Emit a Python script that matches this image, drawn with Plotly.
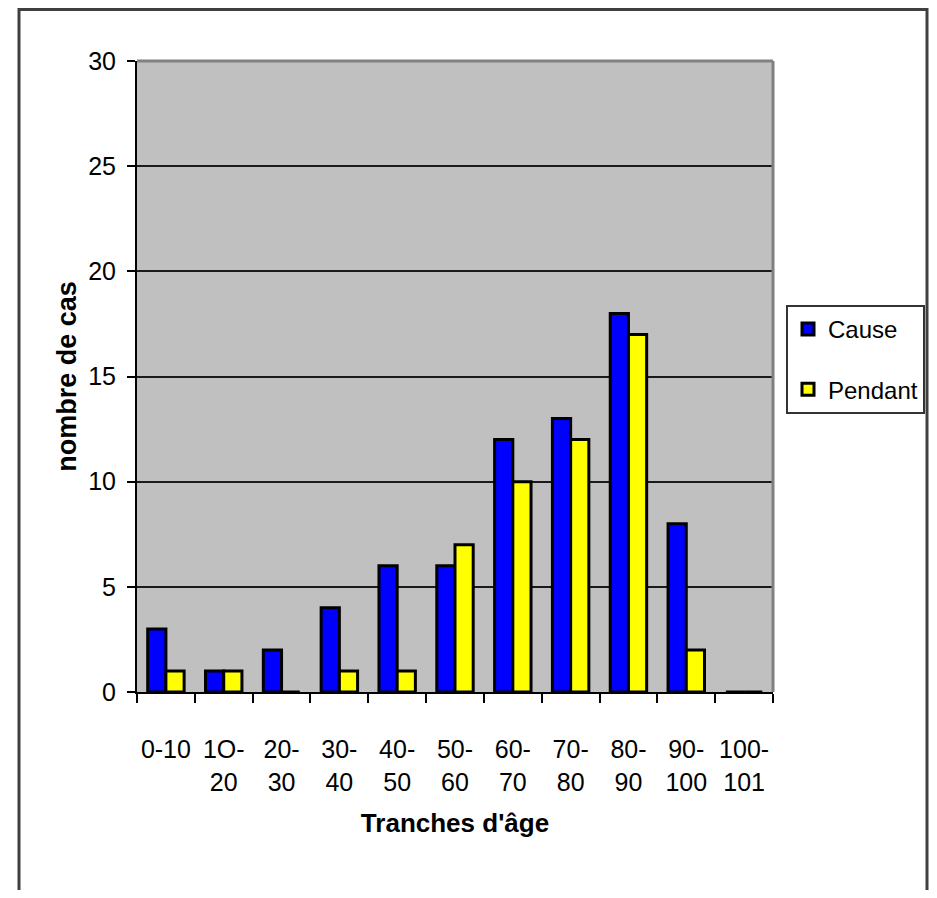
import plotly.graph_objects as go

categories = ["0-10", "1O-<br>20", "20-<br>30", "30-<br>40", "40-<br>50", "50-<br>60",
              "60-<br>70", "70-<br>80", "80-<br>90", "90-<br>100", "100-<br>101"]
cause = [3, 1, 2, 4, 6, 6, 12, 13, 18, 8, 0]
pendant = [1, 1, 0, 1, 1, 7, 10, 12, 17, 2, 0]

FONT = "Liberation Sans, Arial, sans-serif"

# page has an 8px body margin; figure coords = page coords - 8
OFF = 8
W, H = 937 - 2 * OFF, 898 - 2 * OFF
L, R, T, B = 137 - OFF, 773 - OFF, 61 - OFF, 692 - OFF
pw, ph = R - L, B - T


def px(x):
    return (x - OFF - L) / pw


def py(y):
    return (B - (y - OFF)) / ph


fig = go.Figure()
fig.add_trace(go.Bar(x=categories, y=cause, name="Cause", legendgroup="a",
                     marker=dict(color="#0000FF", line=dict(color="black", width=3))))
fig.add_trace(go.Bar(x=categories, y=pendant, name="Pendant", legendgroup="b",
                     marker=dict(color="#FFFF00", line=dict(color="black", width=3))))

fig.update_layout(
    width=W, height=H,
    margin=dict(l=L, r=W - R, t=T, b=H - B, pad=0, autoexpand=False),
    paper_bgcolor="white",
    plot_bgcolor="#C0C0C0",
    barmode="group",
    bargap=0.37,
    bargroupgap=0,
    font=dict(family=FONT, size=25, color="black"),
    showlegend=True,
    legend=dict(
        x=px(786), y=py(305), xanchor="left", yanchor="top",
        bgcolor="white", bordercolor="#333333", borderwidth=2,
        font=dict(family=FONT, size=24, color="black"),
        traceorder="grouped", tracegroupgap=26,
        itemwidth=30,
    ),
    xaxis=dict(
        type="category",
        showline=True, linecolor="black", linewidth=2,
        ticks="outside", ticklen=9, tickwidth=2, tickcolor="black",
        tickson="boundaries",
        tickangle=0,
        ticklabelstandoff=34,
        showgrid=False,
        tickfont=dict(family=FONT, size=25),
        title=dict(text="<b>Tranches d'âge</b>",
                   font=dict(family=FONT, size=26),
                   standoff=19),
        automargin=False,
    ),
    yaxis=dict(
        range=[0, 30], dtick=5,
        showline=True, linecolor="black", linewidth=2,
        ticks="outside", ticklen=8, tickwidth=2, tickcolor="black",
        ticklabelstandoff=6,
        showgrid=True, gridcolor="#1a1a1a", gridwidth=1.5,
        zeroline=False,
        tickfont=dict(family=FONT, size=25),
        title=dict(text="<b>nombre de cas</b>",
                   font=dict(family=FONT, size=27),
                   standoff=4),
        automargin=False,
    ),
    shapes=[
        dict(type="line", xref="paper", yref="paper", x0=0, x1=1, y0=1, y1=1,
             line=dict(color="#808080", width=3), layer="above"),
        dict(type="line", xref="paper", yref="paper", x0=1, x1=1, y0=0, y1=1,
             line=dict(color="#808080", width=3), layer="above"),
        dict(type="rect", xref="paper", yref="paper",
             x0=px(19), x1=px(927), y0=py(920), y1=py(9.5),
             line=dict(color="#404040", width=3), fillcolor="rgba(0,0,0,0)", layer="below"),
    ],
)

fig.write_html("out.html")
